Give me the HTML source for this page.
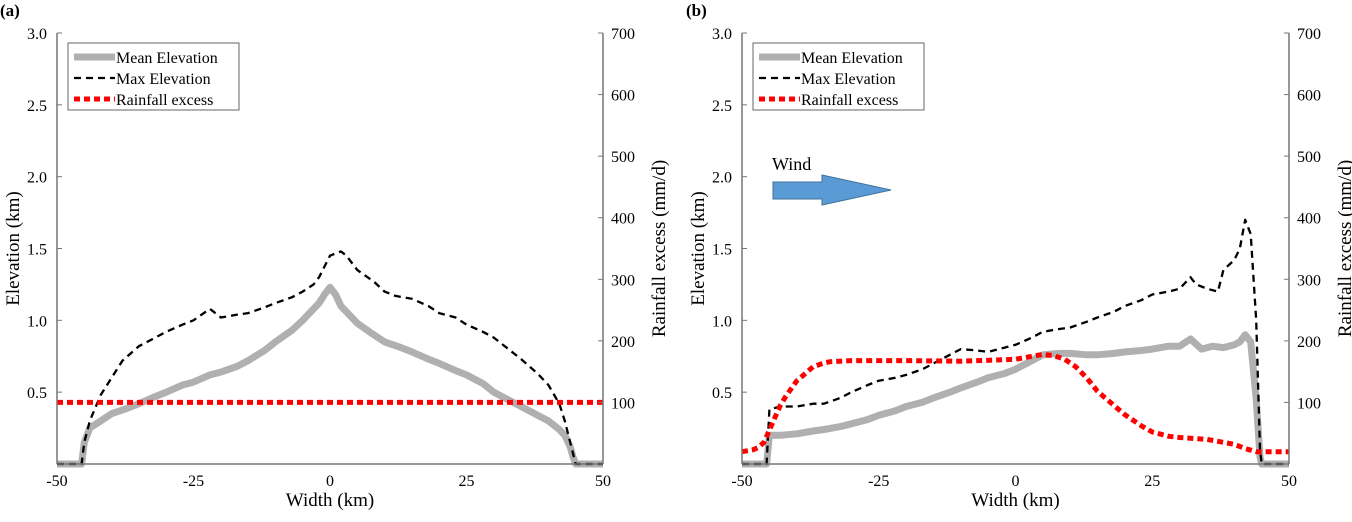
<!DOCTYPE html>
<html><head><meta charset="utf-8"><style>
body{margin:0;background:#fff}
text{font-family:"Liberation Serif","Times New Roman",serif;fill:#000}
</style></head><body>
<svg id="c" width="1352" height="517" xmlns="http://www.w3.org/2000/svg" font-family="Liberation Serif, serif"></svg>
<script>
const xTicks=[-50,-25,0,25,50];
const yLeftTicks=[0.5,1.0,1.5,2.0,2.5,3.0];
const yRightTicks=[100,200,300,400,500,600,700];
const aMeanX=[-50,-45.5,-45,-44,-42,-40,-37,-35,-32,-30,-27,-25,-22,-20,-17,-15,-12,-10,-7,-5,-3,-2,-1,0,1,2,4,5,8,10,13,15,18,20,23,25,28,30,33,35,38,40,42,43,44,44.5,45,50];
const aMean=[0,0,0.15,0.25,0.3,0.35,0.39,0.42,0.47,0.5,0.55,0.57,0.62,0.64,0.68,0.72,0.79,0.85,0.93,1.0,1.08,1.12,1.18,1.23,1.18,1.1,1.02,0.98,0.9,0.85,0.81,0.78,0.73,0.7,0.65,0.62,0.56,0.5,0.44,0.4,0.34,0.3,0.24,0.2,0.12,0.05,0,0];
const aMaxX=[-50,-45.5,-45,-44,-42,-40,-38,-35,-32,-30,-27,-25,-22,-20,-17,-15,-12,-10,-7,-5,-3,-2,0,2,3,5,8,10,12,15,18,20,23,25,28,30,33,35,38,40,42,43,44,45,50];
const aMax=[0,0,0.15,0.3,0.48,0.6,0.72,0.82,0.88,0.92,0.97,1.0,1.08,1.02,1.04,1.05,1.09,1.12,1.16,1.2,1.25,1.3,1.45,1.48,1.45,1.35,1.27,1.2,1.17,1.15,1.1,1.05,1.02,0.97,0.92,0.88,0.79,0.73,0.63,0.55,0.42,0.3,0.15,0,0];
const aRainX=[-50,50];
const aRain=[100,100];
const bMeanX=[-50,-45.5,-45,-43,-40,-37,-35,-32,-30,-27,-25,-22,-20,-17,-15,-12,-10,-7,-5,-2,0,3,5,8,10,13,15,18,20,23,25,28,30,32,34,36,38,40,41,42,43,44,44.7,45,50];
const bMean=[0,0,0.2,0.2,0.21,0.23,0.24,0.26,0.28,0.31,0.34,0.37,0.4,0.43,0.46,0.5,0.53,0.57,0.6,0.63,0.66,0.72,0.76,0.77,0.77,0.76,0.76,0.77,0.78,0.79,0.8,0.82,0.82,0.87,0.8,0.82,0.81,0.83,0.85,0.9,0.85,0.45,0.05,0,0];
const bMaxX=[-50,-45.5,-45,-43,-40,-37,-35,-32,-30,-27,-25,-22,-20,-17,-15,-12,-10,-7,-5,-2,0,3,5,8,10,13,15,18,20,23,25,28,30,32,33,35,37,38,40,41,42,43,44,44.7,45,50];
const bMax=[0,0,0.38,0.4,0.4,0.42,0.42,0.46,0.5,0.55,0.58,0.6,0.62,0.66,0.7,0.76,0.8,0.79,0.78,0.81,0.83,0.88,0.92,0.94,0.95,0.99,1.02,1.06,1.1,1.14,1.18,1.2,1.22,1.3,1.25,1.22,1.2,1.35,1.42,1.5,1.7,1.6,1.0,0.1,0,0];
const bRainX=[-50,-48,-47,-46,-45,-44,-43,-42,-40,-38,-37,-35,-34,-30,-25,-20,-10,0,3,5,7,9,11,13,15,18,20,23,25,28,30,35,40,42,44,50];
const bRain=[20,23,27,35,55,75,95,110,135,150,158,164,166,168,168,168,167,170,175,178,176,170,158,140,118,95,80,62,52,45,43,40,32,25,20,20];

const svg=document.getElementById('c');
const NS='http://www.w3.org/2000/svg';
const FF='Liberation Serif, serif';
function mk(tag,attrs,parent){const e=document.createElementNS(NS,tag);for(const k in attrs)e.setAttribute(k,attrs[k]);if(tag==='text')e.setAttribute('font-family',FF);(parent||svg).appendChild(e);return e;}
function panel(id,L,R,label,series,legend){
  const T=33,B=464;
  const g=mk('g',{});
  
  
  const sx=v=>L+(v+50)/100*(R-L);
  const syL=v=>B-v/3*(B-T);
  const syR=v=>B-v/700*(B-T);
  const clip=mk('clipPath',{id:'clip'+id},g);
  mk('rect',{x:L,y:T-5,width:R-L+5,height:B-T+9},clip);
  const lg=mk('g',{'clip-path':'url(#clip'+id+')'},g);
  series.forEach(s=>{
    const sy=s.axis==='R'?syR:syL;
    const d=s.x.map((v,i)=>(i?'L':'M')+sx(v).toFixed(1)+','+sy(s.y[i]).toFixed(1)).join('');
    const p=mk('path',{d:d,fill:'none',stroke:s.c,'stroke-width':s.w,'stroke-dasharray':s.dash||'none','stroke-linejoin':'round'},lg);
    
    
  });
  mk('line',{x1:L,y1:T,x2:L,y2:B,stroke:'#777','stroke-width':1.5},g);
  mk('line',{x1:R,y1:T,x2:R,y2:B,stroke:'#777','stroke-width':1.5},g);
  mk('line',{x1:L,y1:B,x2:R,y2:B,stroke:'#777','stroke-width':1.5},g);
  xTicks.forEach(v=>{const t=mk('text',{x:sx(v),y:B+22,'font-size':16,'text-anchor':'middle'},g);t.textContent=v;
    });
  yLeftTicks.forEach(v=>{mk('line',{x1:L,y1:syL(v),x2:L+5,y2:syL(v),stroke:'#777'},g);
    const t=mk('text',{x:L-10,y:syL(v)+6,'font-size':16,'text-anchor':'end'},g);t.textContent=v.toFixed(1);
    });
  yRightTicks.forEach(v=>{mk('line',{x1:R-5,y1:syR(v),x2:R,y2:syR(v),stroke:'#777'},g);
    const t=mk('text',{x:R+8,y:syR(v)+6,'font-size':16},g);t.textContent=v;
    });
  let t=mk('text',{x:(L+R)/2,y:506,'font-size':19,'text-anchor':'middle'},g);t.textContent='Width (km)';
  
  t=mk('text',{x:0,y:0,'font-size':19,'text-anchor':'middle',transform:`translate(${L-38},${(T+B)/2}) rotate(-90)`},g);t.textContent='Elevation (km)';
  
  t=mk('text',{x:0,y:0,'font-size':19,'text-anchor':'middle',transform:`translate(${R+62},${(T+B)/2}) rotate(-90)`},g);t.textContent='Rainfall excess (mm/d)';
  
  t=mk('text',{x:label[1],y:16,'font-size':17,'font-weight':'bold'},g);t.textContent=label[0];
  
  const lx=L+11,ly=43;
  const lgd=mk('g',{},g);
  
  mk('rect',{x:lx,y:ly,width:171,height:67,fill:'#fff',stroke:'#666','stroke-width':1},lgd);
  legend.forEach((s,i)=>{const yy=ly+14+i*21;
    mk('line',{x1:lx+6,y1:yy,x2:lx+47,y2:yy,stroke:s.c,'stroke-width':s.w,'stroke-dasharray':s.dash||'none'},lgd);
    const tt=mk('text',{x:lx+48,y:yy+6,'font-size':16},lgd);tt.textContent=s.label;
    });
}
const st={mean:{c:'#b0b0b0',w:7,label:'Mean Elevation'},max:{c:'#000',w:2.3,dash:'7,5',label:'Max Elevation'},rain:{c:'#ff0000',w:5,dash:'6,4',label:'Rainfall excess'}};
panel('a',57,603,['(a)',0],[
  Object.assign({},st.mean,{x:aMeanX,y:aMean,name:'mean-elevation-line'}),
  Object.assign({},st.max,{x:aMaxX,y:aMax,name:'max-elevation-line'}),
  Object.assign({},st.rain,{x:aRainX,y:aRain,axis:'R',name:'rainfall-excess-line'})],[st.mean,st.max,st.rain]);
panel('b',742,1289,['(b)',686],[
  Object.assign({},st.mean,{x:bMeanX,y:bMean,name:'mean-elevation-line'}),
  Object.assign({},st.max,{x:bMaxX,y:bMax,name:'max-elevation-line'}),
  Object.assign({},st.rain,{x:bRainX,y:bRain,axis:'R',name:'rainfall-excess-line'})],[st.mean,st.max,st.rain]);
const w=mk('g',{});

mk('polygon',{points:'773,182 822,182 822,175 891,190 822,205 822,199 773,199',fill:'#5b9bd5',stroke:'#41719c','stroke-width':1},w);
const wt=mk('text',{x:772,y:170,'font-size':18},w);wt.textContent='Wind';
</script>
</body></html>
